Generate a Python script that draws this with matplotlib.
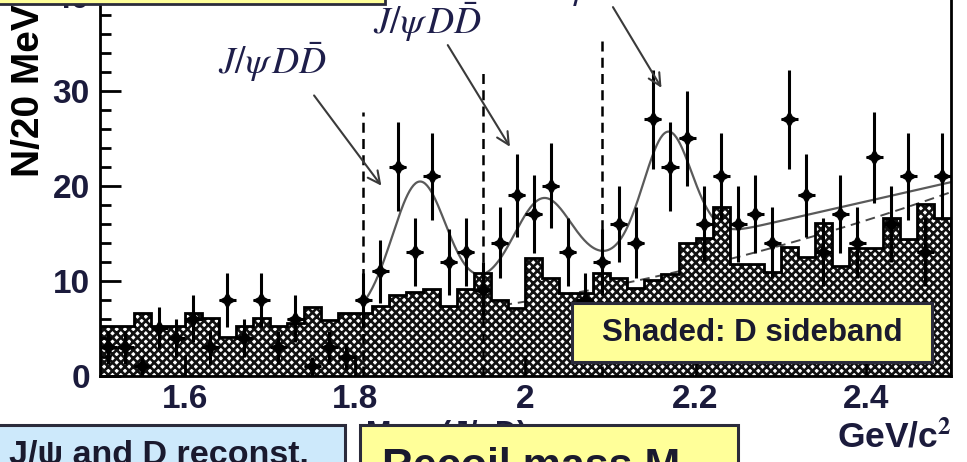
import numpy as np
import matplotlib
matplotlib.use("Agg")
import matplotlib.pyplot as plt
from matplotlib.patches import Rectangle
from matplotlib.ticker import MultipleLocator

# ---------------- data ----------------
bin_low = 1.50
bin_width = 0.02

# J/psi D recoil-mass candidates per 20 MeV bin (1.50 - 2.50 GeV/c^2)
data_counts = [3, 3, 1, 5, 4, 6, 3, 8, 4, 8,
               3, 6, 1, 3, 2, 8, 11, 22, 13, 21,
               12, 13, 9, 14, 19, 17, 20, 13, 8, 12,
               16, 14, 27, 22, 25, 16, 21, 16, 17, 14,
               27, 19, 13, 17, 14, 23, 16, 21, 13, 21]

# D-mass sideband (shaded)
sideband_counts = [5.2, 5.2, 6.6, 5.2, 5.2, 6.6, 6.1, 4.1, 5.2, 6.1,
                   5.2, 5.5, 7.2, 5.9, 6.6, 6.6, 7.3, 8.5, 8.8, 9.1,
                   7.3, 9.1, 10.8, 8.0, 7.1, 12.4, 10.3, 8.7, 8.7, 10.8,
                   10.3, 9.2, 10.1, 10.7, 14.0, 14.5, 17.8, 11.8, 11.8, 10.9,
                   13.5, 12.5, 16.1, 11.5, 13.4, 13.4, 16.6, 14.4, 18.1, 16.6]

# fit: three gaussian peaks on a linear background
peak_mass = [1.875, 2.020, 2.167]
peak_sigma = [0.031, 0.033, 0.028]
peak_height = [12.8, 8.1, 12.1]
fit_range = [1.81, 2.50]
fit_bkg = [6.3, 20.4]            # value at fit start, slope per GeV
# dashed background component (quadratic about 2.0 GeV)
dash_range = [1.81, 2.50]
dash_bkg = [7.8, 14.6, 16.9]

# signal windows
window_mass = [1.81, 1.95, 2.09]
window_top = [27.8, 32.0, 35.6]

# annotations: (tail m, tail N, head m, head N)
arrow_tail = [(1.752, 29.5), (1.909, 34.8), (2.103, 38.8)]
arrow_head = [(1.831, 20.0), (1.982, 24.1), (2.160, 30.3)]
label_pos = [(1.639, 31.8), (1.821, 36.0), (2.017, 39.7)]
label_text = [r'$J/\psi\, D\bar{D}$', r'$J/\psi\, D\bar{D}$', r'$J/\psi\, D^{*}\bar{D}^{*}$']

x_ticks = [1.6, 1.8, 2.0, 2.2, 2.4]
x_tick_labels = ['1.6', '1.8', '2', '2.2', '2.4']
y_ticks = [0, 10, 20, 30, 40]

# ---------------- figure ----------------
W, H = 967, 462
plt.rcParams['mathtext.fontset'] = 'stix'
plt.rcParams['hatch.linewidth'] = 1.9
plt.rcParams['font.family'] = ['Liberation Sans', 'DejaVu Sans']

fig = plt.figure(figsize=(W / 100, H / 100), dpi=100)


def fx(px):
    return px / W


def fy(py):
    return 1 - py / H


YMAX = 44.0
PX_PER_UNIT = 9.5
ax = fig.add_axes([fx(99.5), fy(375.7), 851.5 / W, YMAX * PX_PER_UNIT / H])
ax.set_xlim(1.5, 2.5)
ax.set_ylim(0, YMAX)

edges = bin_low + bin_width * np.arange(len(data_counts) + 1)
centers = 0.5 * (edges[:-1] + edges[1:])
counts = np.array(data_counts, dtype=float)

# fit curves
m = np.linspace(fit_range[0], fit_range[1], 600)
fit_curve = fit_bkg[0] + fit_bkg[1] * (m - fit_range[0])
for mu, sg, hgt in zip(peak_mass, peak_sigma, peak_height):
    fit_curve = fit_curve + hgt * np.exp(-0.5 * ((m - mu) / sg) ** 2)
ax.plot(m, fit_curve, color='#5a5a5a', lw=1.6, zorder=0.8)

md = np.linspace(dash_range[0], dash_range[1], 400)
dash_curve = dash_bkg[0] + dash_bkg[1] * (md - 2.0) + dash_bkg[2] * (md - 2.0) ** 2
ax.plot(md, dash_curve, color='#4a4a4a', lw=1.4, ls=(0, (5, 3)), zorder=0.8)

# sideband histogram
ax.stairs(sideband_counts, edges, fill=True, facecolor='white', edgecolor='#111111',
          hatch='xxxx', linewidth=0, baseline=0, zorder=1)
ax.stairs(sideband_counts, edges, fill=False, color='black', linewidth=2.0,
          baseline=0, zorder=1.2)

# signal windows
for xm, top in zip(window_mass, window_top):
    ax.plot([xm, xm], [0, top], color='black', lw=1.8, ls=(0, (4, 2.5)), zorder=2)

# data points
ax.errorbar(centers, counts, yerr=np.sqrt(counts), xerr=bin_width / 2, fmt='none',
            ecolor='black', elinewidth=2.2, capsize=0, zorder=3)
ax.plot(centers, counts, ls='none', marker=(4, 1, 0), ms=11, color='black', zorder=4)

# arrows and labels
for tail, head in zip(arrow_tail, arrow_head):
    ax.annotate('', xy=head, xytext=tail,
                arrowprops=dict(arrowstyle='->', color='#3a3a3a', lw=1.5,
                                mutation_scale=22, shrinkA=0, shrinkB=0),
                zorder=5)
for (lx, ly), txt in zip(label_pos, label_text):
    ax.text(lx, ly, txt, fontsize=27, color='#1e1e4a', ha='left', va='baseline',
            zorder=5)

# axes styling
for side in ['left', 'bottom', 'right']:
    ax.spines[side].set_linewidth(2.0)
    ax.spines[side].set_color('black')
ax.spines['top'].set_visible(False)
ax.set_xticks(x_ticks)
ax.set_xticklabels(x_tick_labels)
ax.set_yticks(y_ticks)
ax.yaxis.set_minor_locator(MultipleLocator(2))
ax.tick_params(axis='both', which='major', direction='in', length=15, width=2,
               labelsize=24, labelcolor='#1b1b3c')
ax.tick_params(axis='y', which='minor', direction='in', length=8, width=2)
ax.tick_params(axis='y', pad=7)
ax.tick_params(axis='x', pad=6)
for lab in ax.get_xticklabels() + ax.get_yticklabels():
    lab.set_fontweight('bold')

# y-axis title
fig.text(fx(29), fy(177), 'N/20 MeV', rotation=90, ha='center', va='bottom',
         fontsize=28, fontweight='bold', color='black')

# x-axis title (mostly behind the boxes)
fig.text(fx(365), fy(418), r'M$_{\mathrm{recoil}}$(J/$\psi$D)', ha='left', va='top',
         fontsize=22, fontweight='bold', color='#1b1b3c', zorder=2)
fig.text(fx(952), fy(448), r'GeV/c$^\mathbf{2}$', ha='right', va='baseline',
         fontsize=25.5, fontweight='bold', color='#1b1b3c', zorder=2)

# boxes
box_edge = '#2b2b3b'
fig.add_artist(Rectangle((fx(-5), fy(4)), 390 / W, 30 / H, transform=fig.transFigure,
                         facecolor='#ffff99', edgecolor=box_edge, lw=2, zorder=6))
fig.add_artist(Rectangle((fx(572), fy(362)), 360 / W, 59 / H, transform=fig.transFigure,
                         facecolor='#ffff99', edgecolor=box_edge, lw=2.2, zorder=6))
fig.text(fx(752), fy(333), 'Shaded: D sideband', ha='center', va='center',
         fontsize=22.5, fontweight='bold', color='#1a1a2e', zorder=7)

fig.add_artist(Rectangle((fx(-5), fy(490)), 350 / W, 65 / H, transform=fig.transFigure,
                         facecolor='#cde9fb', edgecolor=box_edge, lw=2.2, zorder=6))
fig.text(fx(9), fy(464), r'J/ψ and D reconst.', ha='left', va='baseline',
         fontsize=24.5, fontweight='bold', color='#1a1a2e', zorder=7)

fig.add_artist(Rectangle((fx(360), fy(490)), 378 / W, 65 / H, transform=fig.transFigure,
                         facecolor='#ffff99', edgecolor=box_edge, lw=2.2, zorder=6))
fig.text(fx(382), fy(478), 'Recoil mass M', ha='left', va='baseline',
         fontsize=31, fontweight='bold', color='#1a1a2e', zorder=7)

fig.savefig('out.png', dpi=100)
